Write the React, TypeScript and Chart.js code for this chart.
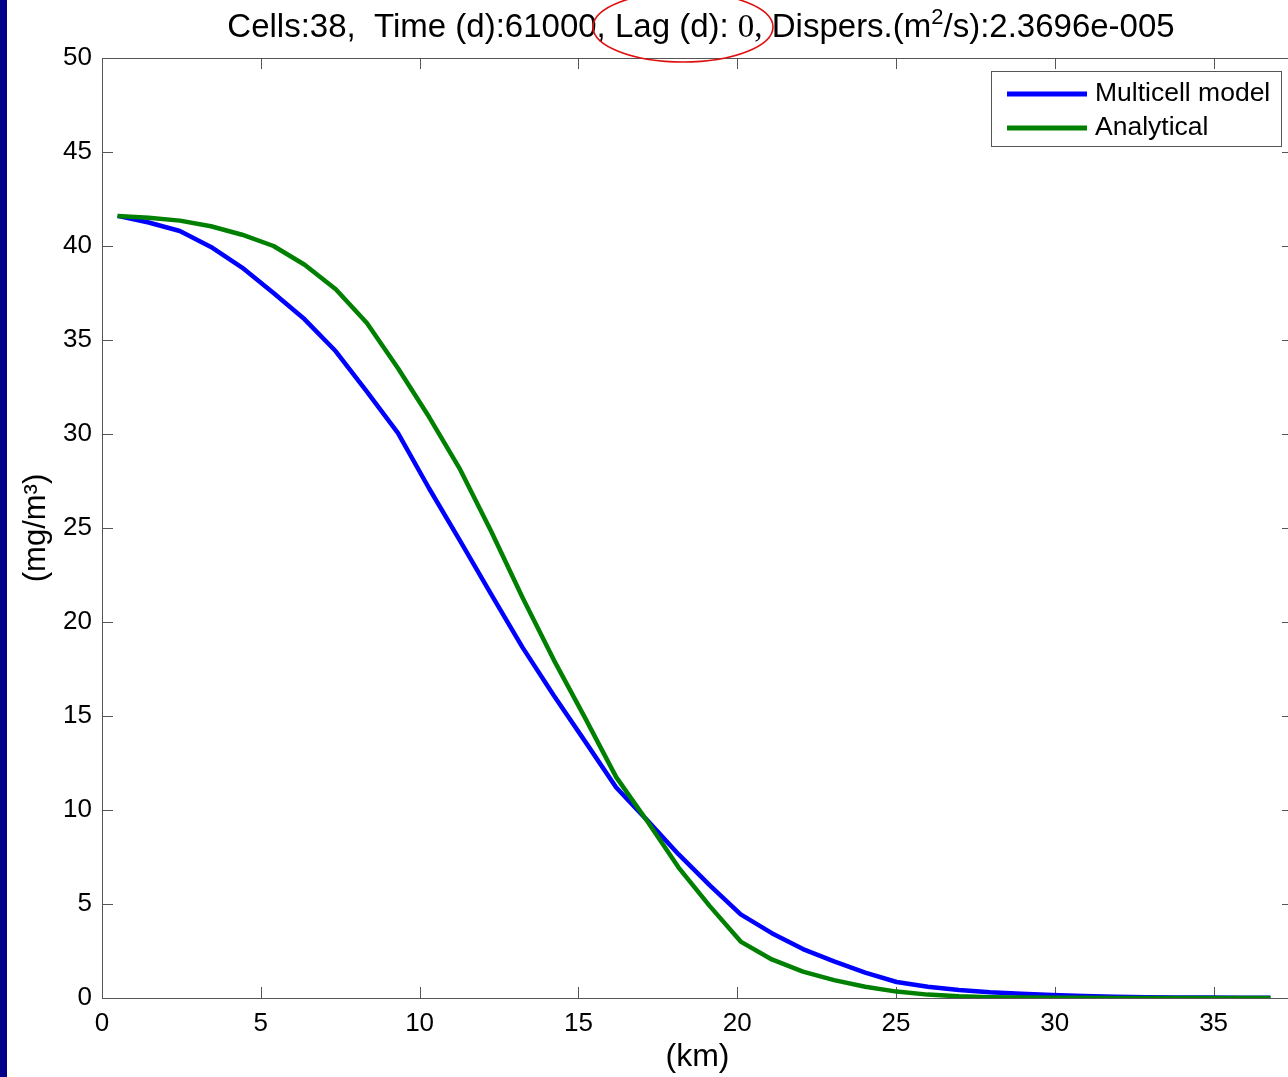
import React, { useEffect, useRef } from "react";
import { Chart, registerables } from "chart.js";

Chart.register(...registerables);

// Cell centres (km)
const cellKm = [
  0.49, 1.47, 2.45, 3.43, 4.41, 5.4, 6.38, 7.36, 8.34, 9.32, 10.3, 11.28, 12.26,
  13.24, 14.22, 15.21, 16.19, 17.17, 18.15, 19.13, 20.11, 21.09, 22.07, 23.05,
  24.03, 25.02, 26.0, 26.98, 27.96, 28.94, 29.92, 30.9, 31.88, 32.86, 33.84,
  34.83, 35.81, 36.79,
];

// Concentration (mg/m3)
const multicell = [
  41.6, 41.25, 40.8, 39.95, 38.85, 37.5, 36.1, 34.4, 32.25, 30.05, 27.1, 24.3,
  21.45, 18.65, 16.1, 13.65, 11.2, 9.45, 7.65, 6.0, 4.45, 3.45, 2.6, 1.95, 1.35,
  0.85, 0.6, 0.42, 0.3, 0.22, 0.16, 0.11, 0.07, 0.04, 0.03, 0.02, 0.01, 0.01,
];
const analytical = [
  41.6, 41.5, 41.35, 41.05, 40.6, 40.0, 39.0, 37.7, 35.9, 33.5, 30.9, 28.1,
  24.8, 21.3, 18.0, 14.9, 11.75, 9.4, 6.95, 4.9, 3.0, 2.05, 1.4, 0.95, 0.6,
  0.34, 0.18, 0.09, 0.04, 0.02, 0.01, 0.01, 0.0, 0.0, 0.0, 0.0, 0.0, 0.0,
];

const xTicks = [0, 5, 10, 15, 20, 25, 30, 35];
const yTicks = [0, 5, 10, 15, 20, 25, 30, 35, 40, 45, 50];

const seriesNames = ["Multicell model", "Analytical"];
const seriesColors = ["#0000ff", "#008000"];

const xTitle = "(km)";
const yTitle = "(mg/m\u00b3)";

// title pieces: [text, kind]
const titleSegments: [string, string][] = [
  ["Cells:38,  Time (d):61000, ", "sans"],
  ["Lag (d): ", "sans"],
  ["0,", "serif"],
  [" Dispers.(m", "sans"],
  ["2", "sup"],
  ["/s):2.3696e-005", "sans"],
];

const SANS = "'Liberation Sans', Arial, Helvetica, sans-serif";
const SERIF = "'Liberation Serif', 'Times New Roman', serif";

const framePlugin = {
  id: "frame",
  beforeDraw(chart: any) {
    const ctx = chart.ctx;
    ctx.save();
    ctx.fillStyle = "#ffffff";
    ctx.fillRect(0, 0, chart.width, chart.height);
    ctx.fillStyle = "#000088";
    ctx.fillRect(0, 0, 7, chart.height);
    ctx.restore();
  },
  beforeDatasetsDraw(chart: any) {
    const ctx = chart.ctx;
    const { left, right, top, bottom } = chart.chartArea;
    const xs = chart.scales.x;
    const ys = chart.scales.y;
    ctx.save();
    ctx.strokeStyle = "#555555";
    ctx.lineWidth = 1;
    ctx.strokeRect(Math.round(left) + 0.5, Math.round(top) + 0.5, Math.round(right - left), Math.round(bottom - top));
    const tl = 11;
    ctx.beginPath();
    xTicks.forEach((v) => {
      const px = Math.round(xs.getPixelForValue(v)) + 0.5;
      ctx.moveTo(px, bottom);
      ctx.lineTo(px, bottom - tl);
      ctx.moveTo(px, top);
      ctx.lineTo(px, top + tl);
    });
    yTicks.forEach((v) => {
      const py = Math.round(ys.getPixelForValue(v)) + 0.5;
      ctx.moveTo(left, py);
      ctx.lineTo(left + tl, py);
      ctx.moveTo(right, py);
      ctx.lineTo(right - tl, py);
    });
    ctx.stroke();
    ctx.restore();
  },
  afterDraw(chart: any) {
    const ctx = chart.ctx;
    ctx.save();
    // title
    const fontFor = (k: string) =>
      k === "serif" ? `33px ${SERIF}` : k === "sup" ? `22px ${SANS}` : `33px ${SANS}`;
    let total = 0;
    titleSegments.forEach(([t, k]) => {
      ctx.font = fontFor(k);
      total += ctx.measureText(t).width;
    });
    let x = 701 - total / 2;
    const base = 37;
    ctx.fillStyle = "#000";
    ctx.textBaseline = "alphabetic";
    ctx.textAlign = "left";
    titleSegments.forEach(([t, k]) => {
      ctx.font = fontFor(k);
      ctx.fillText(t, x, k === "sup" ? base - 13 : base);
      x += ctx.measureText(t).width;
    });
    // red ellipse
    ctx.strokeStyle = "#e01010";
    ctx.lineWidth = 1.6;
    ctx.beginPath();
    ctx.ellipse(683, 27, 90, 35, 0, 0, Math.PI * 2);
    ctx.stroke();

    // legend
    const bx = 991, by = 71, bw = 290, bh = 75;
    ctx.fillStyle = "#fff";
    ctx.fillRect(bx, by, bw, bh);
    ctx.strokeStyle = "#555";
    ctx.lineWidth = 1;
    ctx.strokeRect(bx + 0.5, by + 0.5, bw, bh);
    ctx.font = `26.5px ${SANS}`;
    ctx.textBaseline = "middle";
    chart.data.datasets.forEach((ds: any, i: number) => {
      const yy = 94 + i * 34;
      ctx.strokeStyle = ds.borderColor;
      ctx.lineWidth = 5;
      ctx.beginPath();
      ctx.moveTo(1007, yy);
      ctx.lineTo(1087, yy);
      ctx.stroke();
      ctx.fillStyle = "#000";
      ctx.fillText(ds.label, 1095, yy);
    });
    ctx.restore();
  },
};

export default function App() {
  const ref = useRef<HTMLCanvasElement | null>(null);
  useEffect(() => {
    if (!ref.current) return;
    const chart = new Chart(ref.current, {
      type: "line",
      data: {
        datasets: [
          {
            label: seriesNames[0],
            data: cellKm.map((x, i) => ({ x, y: multicell[i] })),
            borderColor: seriesColors[0],
            backgroundColor: seriesColors[0],
            borderWidth: 4.5,
            pointRadius: 0,
            tension: 0,
            order: 2,
            borderJoinStyle: "round",
          },
          {
            label: seriesNames[1],
            data: cellKm.map((x, i) => ({ x, y: analytical[i] })),
            borderColor: seriesColors[1],
            backgroundColor: seriesColors[1],
            borderWidth: 4.5,
            pointRadius: 0,
            tension: 0,
            order: 1,
            borderJoinStyle: "round",
          },
        ],
      },
      options: {
        animation: false,
        responsive: false,
        devicePixelRatio: 1,
        layout: { padding: { top: 58, right: 7, left: 0, bottom: 0 } },
        plugins: {
          legend: { display: false },
          title: { display: false },
          tooltip: { enabled: false },
        },
        scales: {
          x: {
            type: "linear",
            min: 0,
            max: 37.5,
            afterBuildTicks: (s: any) => {
              s.ticks = xTicks.map((v) => ({ value: v }));
            },
            afterFit: (s: any) => {
              s.height = 79;
            },
            grid: { display: false },
            border: { display: false },
            ticks: {
              color: "#000",
              padding: 2,
              maxRotation: 0,
              font: { family: SANS, size: 26 },
            },
            title: {
              display: true,
              text: xTitle,
              color: "#000",
              font: { family: SANS, size: 32 },
              padding: { top: 0, bottom: 1 },
            },
          },
          y: {
            type: "linear",
            min: 0,
            max: 50,
            afterBuildTicks: (s: any) => {
              s.ticks = yTicks.map((v) => ({ value: v }));
            },
            afterFit: (s: any) => {
              s.width = 102;
            },
            grid: { display: false },
            border: { display: false },
            ticks: {
              color: "#000",
              padding: 2,
              font: { family: SANS, size: 26 },
            },
            title: {
              display: true,
              text: yTitle,
              color: "#000",
              font: { family: SANS, size: 31 },
              padding: { top: 18, bottom: 0 },
            },
          },
        },
      },
      plugins: [framePlugin],
    } as any);
    return () => chart.destroy();
  }, []);

  return (
    <div
      style={{
        position: "absolute",
        left: 0,
        top: 0,
        width: 1288,
        height: 1077,
        overflow: "hidden",
        background: "#fff",
      }}
    >
      <canvas ref={ref} width={1300} height={1077} style={{ width: 1300, height: 1077, display: "block" }} />
    </div>
  );
}
